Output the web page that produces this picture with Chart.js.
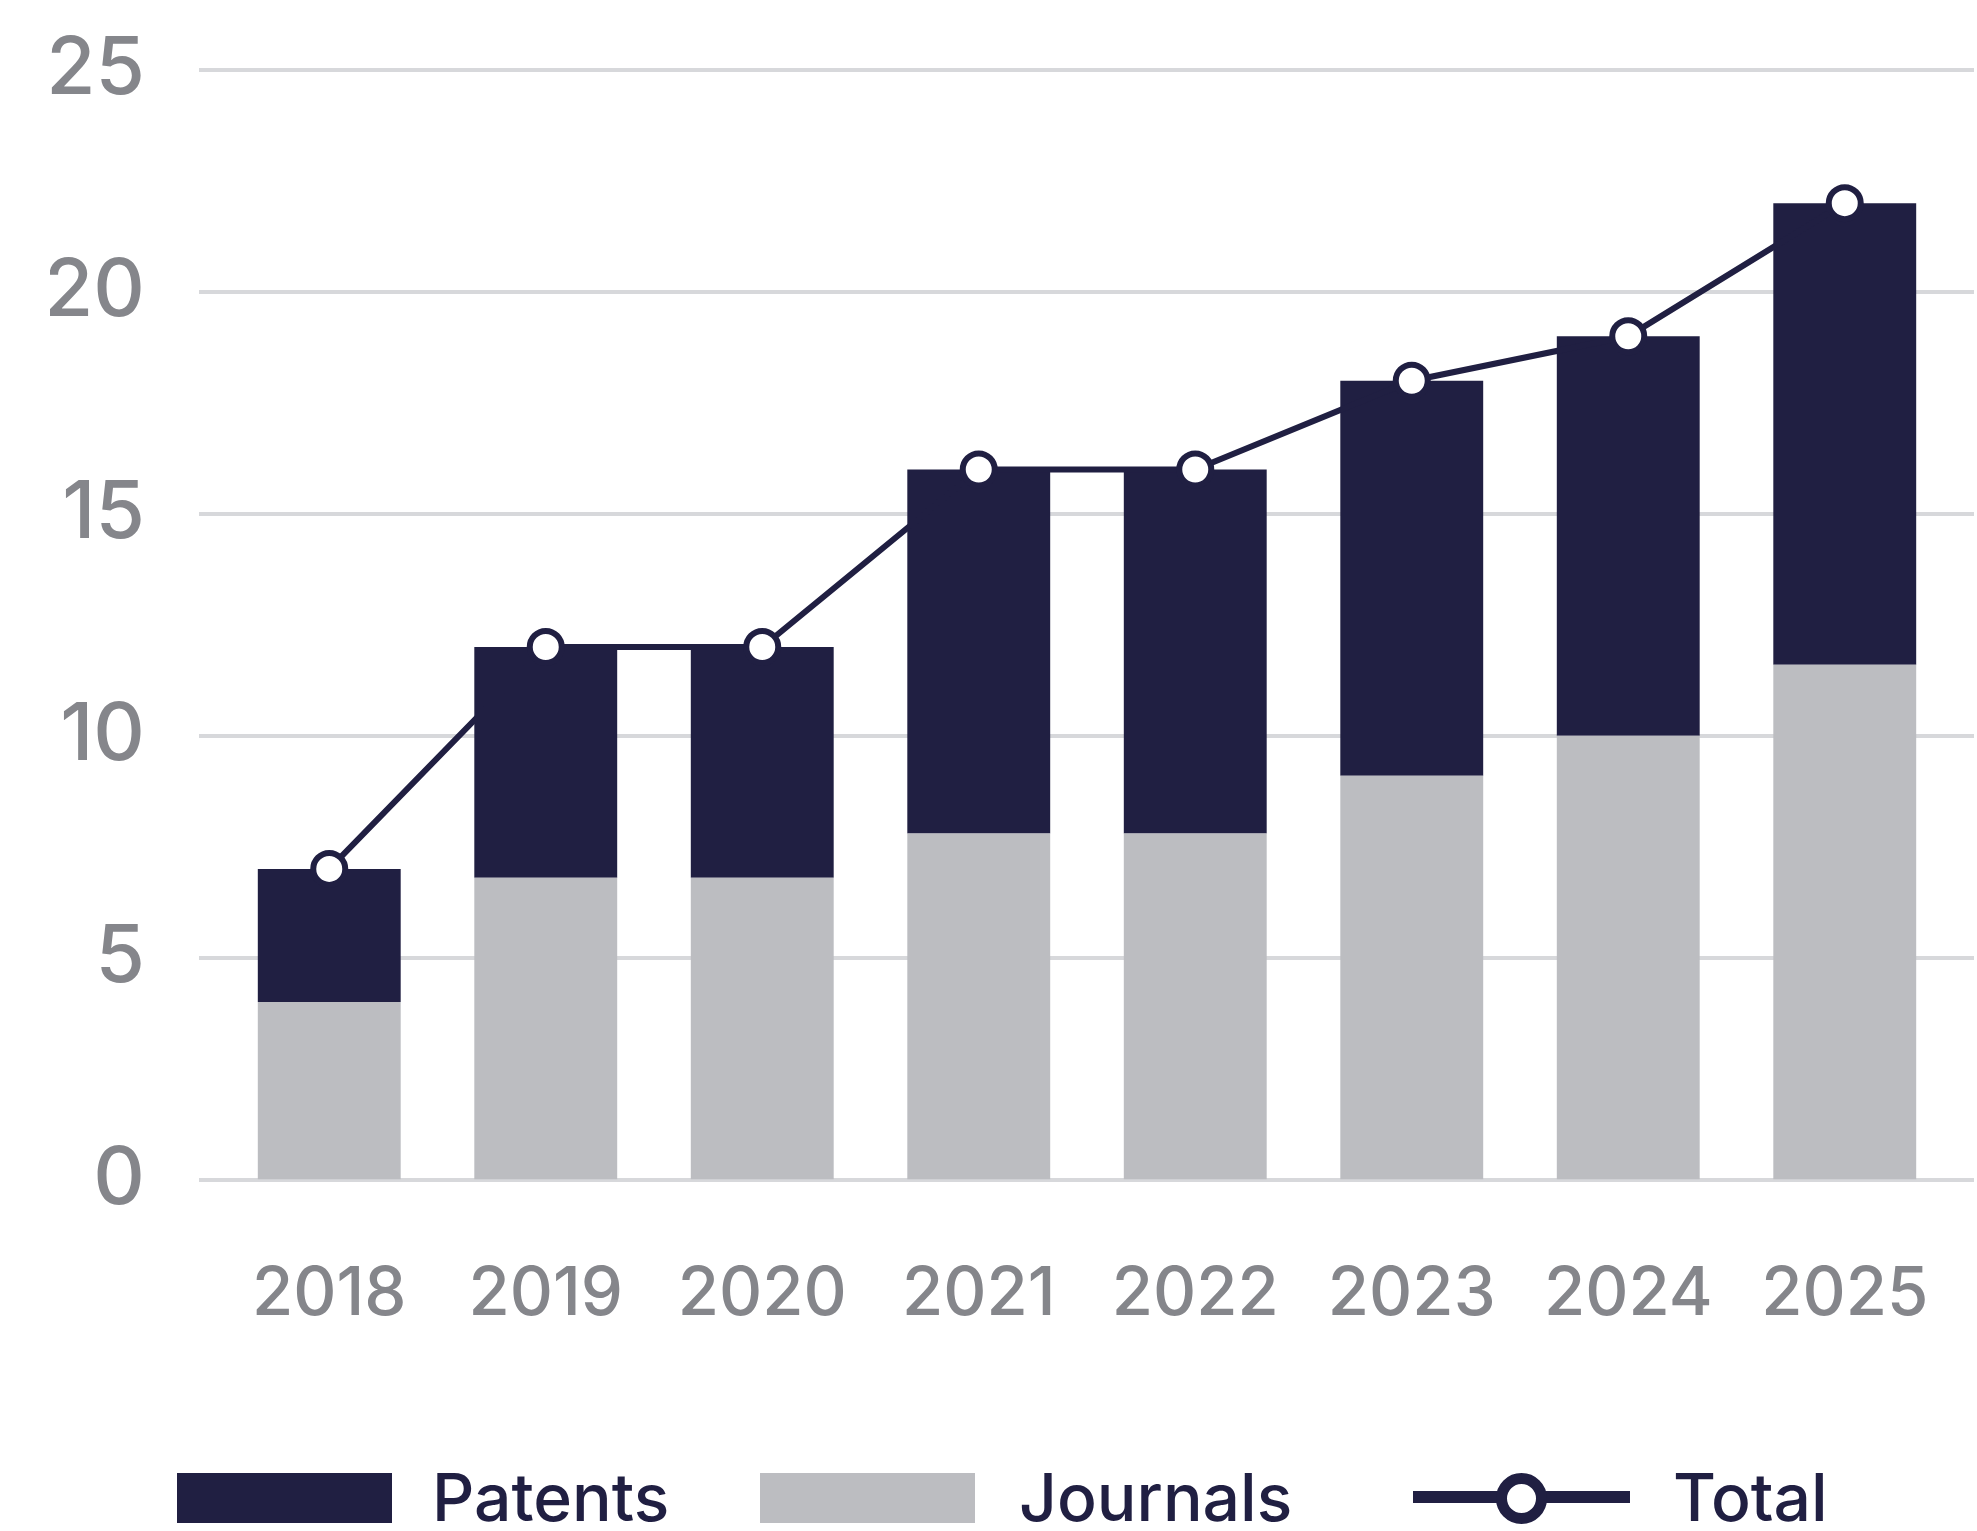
<!DOCTYPE html>
<html>
<head>
<meta charset="utf-8">
<script src="https://cdn.jsdelivr.net/npm/chart.js@4.4.1/dist/chart.umd.min.js"></script>
<style>
  html, body { margin: 0; padding: 0; background: #fff; }
  #wrap { position: relative; width: 1977px; height: 1531px; overflow: hidden; }
  #chart { position: absolute; left: 0; top: 0; }
  .lg { position: absolute; font-family: Inter, "Noto Sans", sans-serif; font-weight: 500; font-size: 66px; line-height: 1; color: #201f42; }
  .box { position: absolute; height: 50px; width: 215px; }
</style>
</head>
<body>
<div id="wrap">
  <canvas id="chart" width="1977" height="1531"></canvas>
  <!-- legend -->
  <div class="box" style="left:177px; top:1473px; background:#201f42;"></div>
  <div class="lg" style="left:432px; top:1464px;">Patents</div>
  <div class="box" style="left:760px; top:1473px; background:#bcbdc1;"></div>
  <div class="lg" style="left:1019px; top:1464px;">Journals</div>
  <div style="position:absolute; left:1413px; top:1491px; width:217px; height:12px; background:#201f42;"></div>
  <div style="position:absolute; left:1496px; top:1473px; width:29px; height:29px; border:11px solid #201f42; border-radius:50%; background:#fff;"></div>
  <div class="lg" style="left:1673px; top:1464px;">Total</div>
</div>
<script>
const years = ["2018", "2019", "2020", "2021", "2022", "2023", "2024", "2025"];
const journals = [4, 6.8, 6.8, 7.8, 7.8, 9.1, 10, 11.6];
const patents = [3, 5.2, 5.2, 8.2, 8.2, 8.9, 9, 10.4];
const totals = [7, 12, 12, 16, 16, 18, 19, 22];
const yMax = 25;
const yStep = 5;

const NAVY = "#201f42";
const GREY = "#bcbdc1";
const GRID = "#d7d8db";
const TICK = "#85868b";

// gridlines run a little past the plot area on both sides
const extGrid = {
  id: "extGrid",
  beforeDatasetsDraw(chart) {
    const { ctx, chartArea, scales } = chart;
    const y = scales.y;
    ctx.save();
    ctx.strokeStyle = GRID;
    ctx.lineWidth = 4;
    y.ticks.forEach((t) => {
      const py = Math.round(y.getPixelForValue(t.value));
      ctx.beginPath();
      ctx.moveTo(chartArea.left - 22, py);
      ctx.lineTo(chartArea.right + 21, py);
      ctx.stroke();
    });
    ctx.restore();
  },
};

new Chart(document.getElementById("chart").getContext("2d"), {
  data: {
    labels: years,
    datasets: [
      {
        type: "line",
        label: "Total",
        data: totals,
        stack: "total",
        order: 0,
        borderColor: NAVY,
        borderWidth: 6,
        pointRadius: 16,
        pointBorderWidth: 6,
        pointBackgroundColor: "#fff",
        pointBorderColor: NAVY,
        tension: 0,
        clip: false,
      },
      {
        type: "bar",
        label: "Journals",
        data: journals,
        stack: "pubs",
        order: 1,
        backgroundColor: GREY,
        borderWidth: 0,
        categoryPercentage: 1,
        barPercentage: 0.66,
      },
      {
        type: "bar",
        label: "Patents",
        data: patents,
        stack: "pubs",
        order: 1,
        backgroundColor: NAVY,
        borderWidth: 0,
        categoryPercentage: 1,
        barPercentage: 0.66,
      },
    ],
  },
  options: {
    responsive: false,
    animation: false,
    devicePixelRatio: 1,
    layout: { autoPadding: false, padding: { left: 50, right: 24, top: 70, bottom: 121 } },
    plugins: { legend: { display: false }, tooltip: { enabled: false } },
    scales: {
      x: {
        stacked: true,
        grid: { display: false, drawTicks: false },
        border: { display: false },
        ticks: {
          color: TICK,
          padding: 75,
          font: { family: "Inter", size: 67, weight: "500" },
        },
        afterFit(scale) {
          scale.paddingLeft = 0;
          scale.paddingRight = 0;
        },
      },
      y: {
        stacked: true,
        min: 0,
        max: yMax,
        grid: { display: false, drawTicks: false },
        border: { display: false },
        ticks: {
          stepSize: yStep,
          color: TICK,
          padding: 76,
          font: { family: "Inter", size: 80, weight: "500" },
        },
        afterFit(scale) {
          scale.width = 171;
          scale.paddingTop = 0;
          scale.paddingBottom = 0;
        },
      },
    },
  },
  plugins: [extGrid],
});
</script>
</body>
</html>
